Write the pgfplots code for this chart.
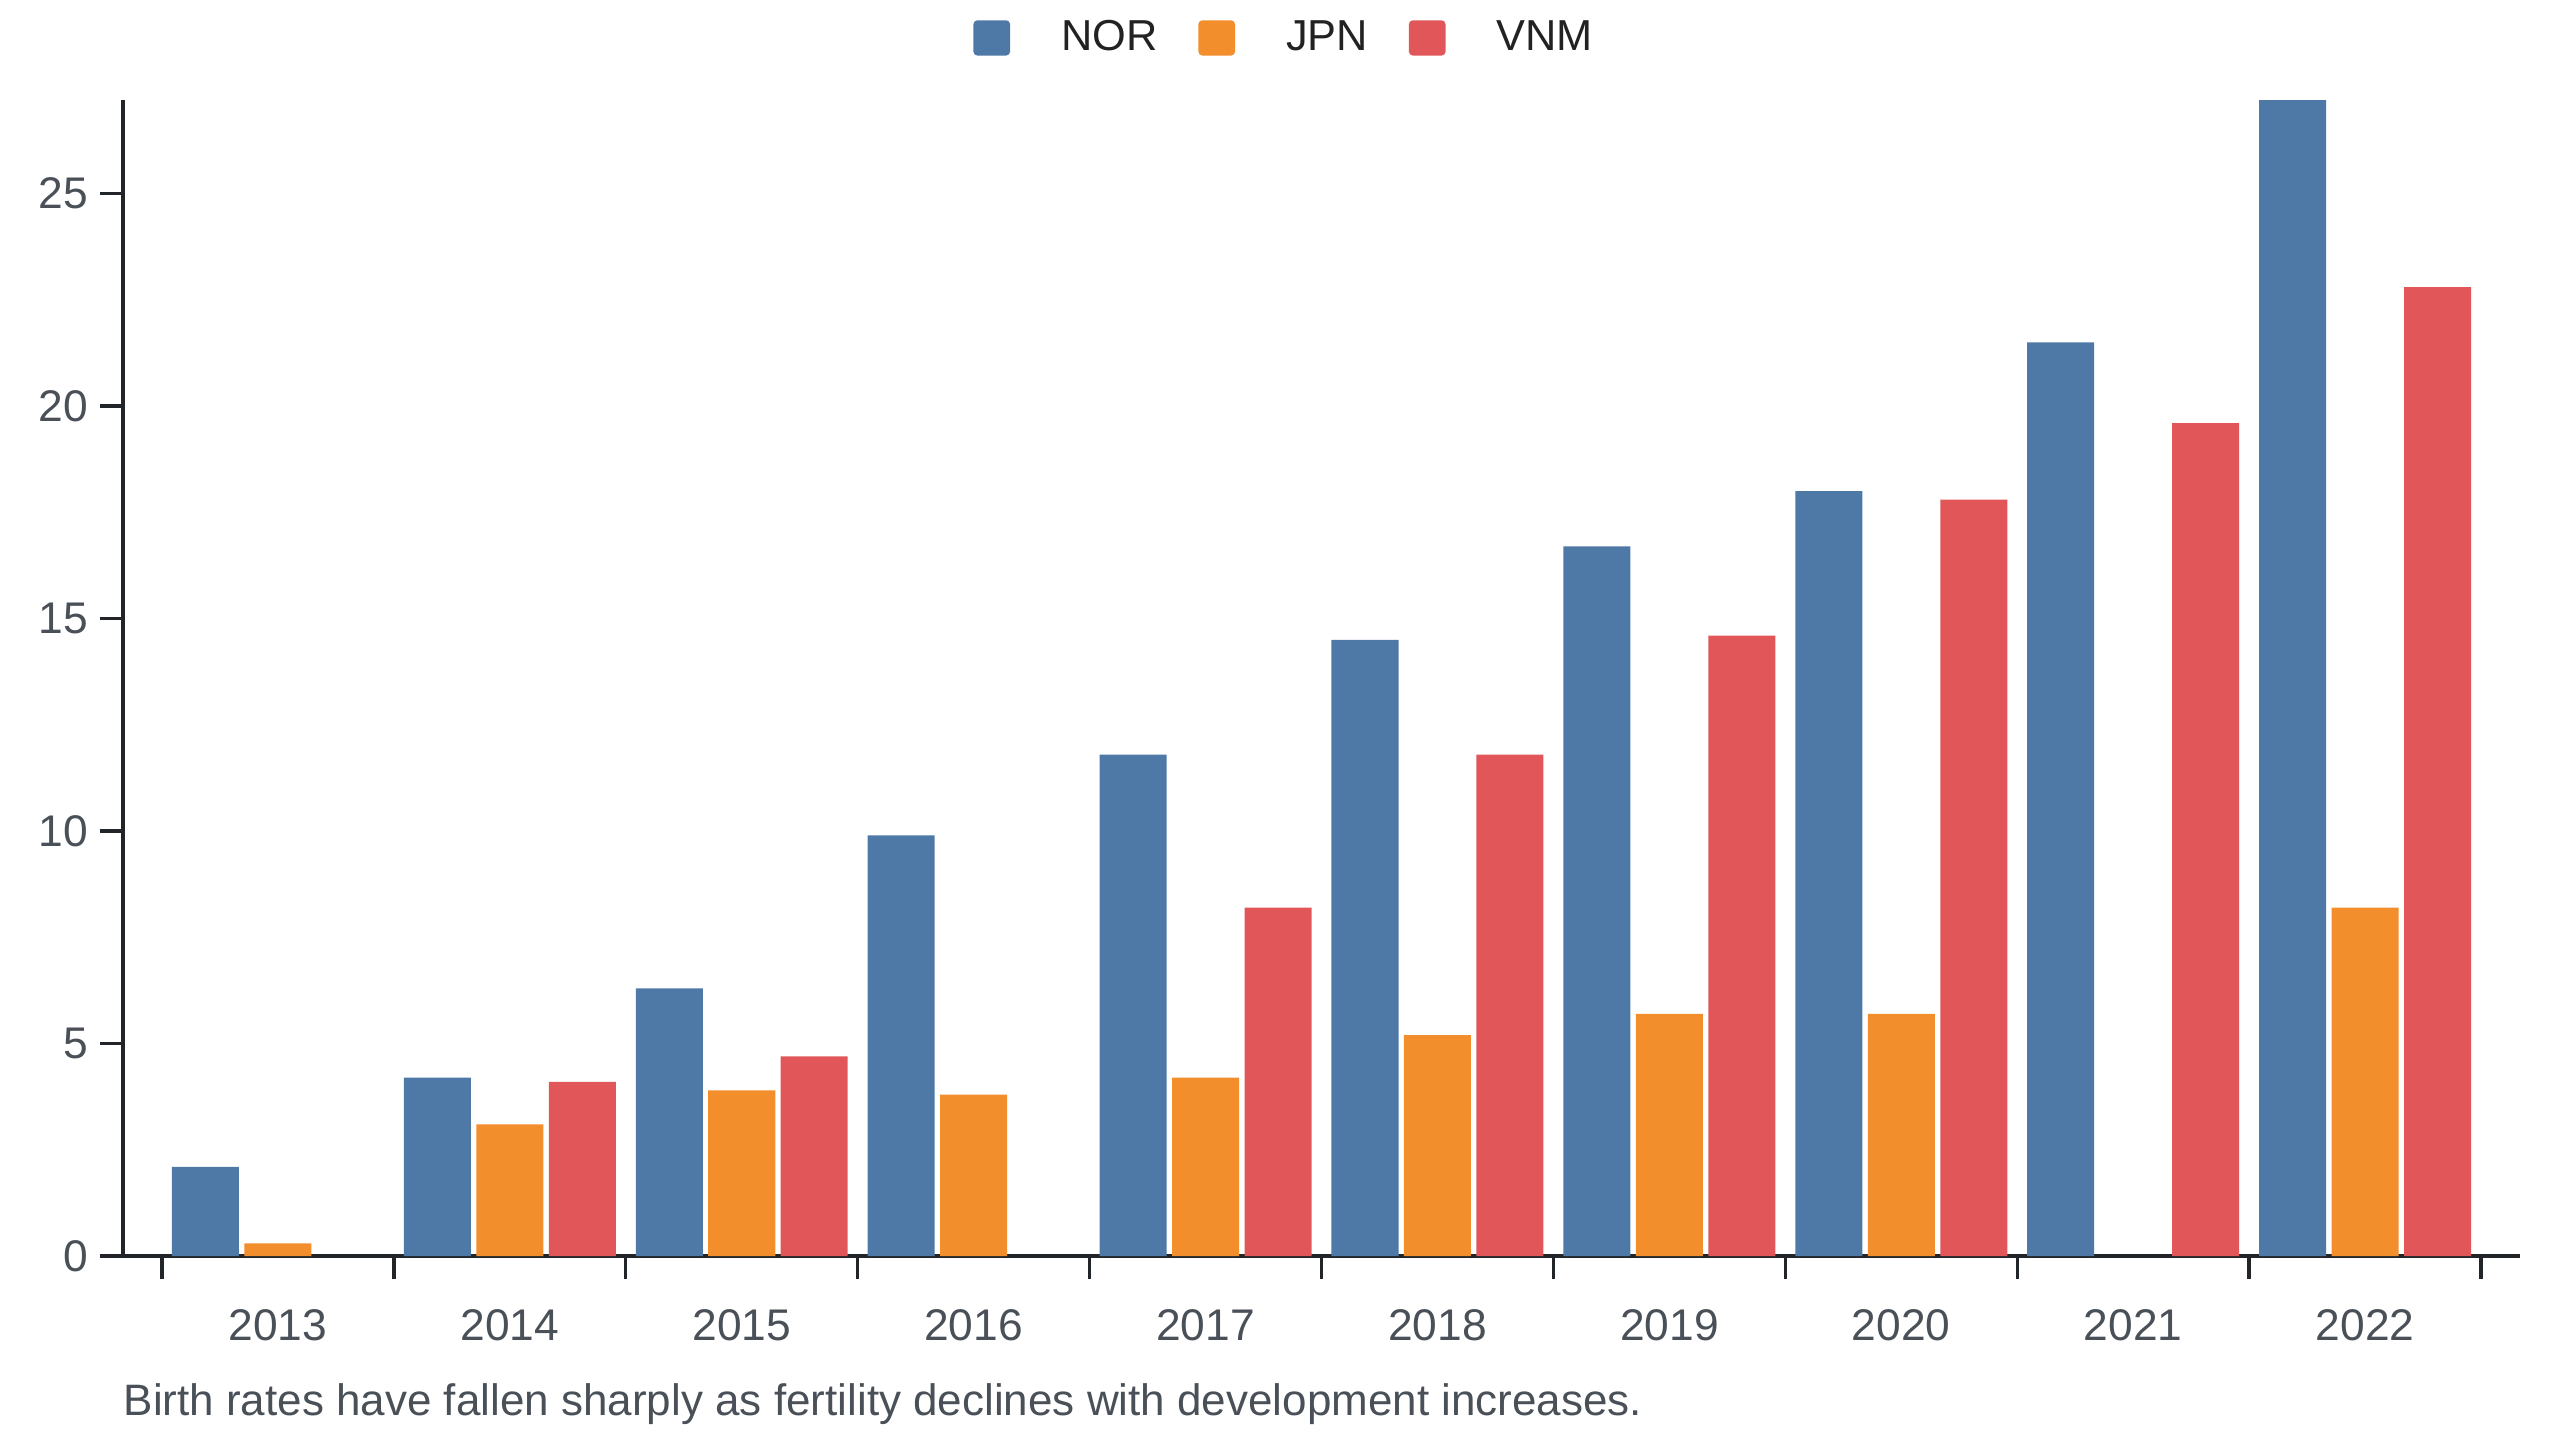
\documentclass[border=0pt]{standalone}
\usepackage{fontspec}
\setmainfont{Liberation Sans}
\usepackage{pgfplots}
\pgfplotsset{compat=1.18}
\definecolor{cNOR}{HTML}{4E79A7}
\definecolor{cJPN}{HTML}{F28E2B}
\definecolor{cVNM}{HTML}{E15759}
\definecolor{axc}{HTML}{212529}
\definecolor{txc}{HTML}{495057}
\definecolor{lgc}{HTML}{222222}
\begin{document}
\begin{tikzpicture}
\path[use as bounding box] (-36.9pt,-55.2pt) rectangle (731.1pt,376.8pt);
\begin{axis}[
  at={(0pt,0pt)}, anchor=south west,
  scale only axis, width=719.1pt, height=346.8pt,
  xmin=-0.668, xmax=9.668, ymin=0, ymax=27.2,
  axis lines*=left,
  axis line style={line width=1pt, draw=axc},
  tick align=outside,
  major tick length=7pt,
  tick style={line width=1pt, draw=axc},
  xtick={-0.5,0.5,1.5,2.5,3.5,4.5,5.5,6.5,7.5,8.5,9.5},
  x tick label as interval,
  xticklabels={2013,2014,2015,2016,2017,2018,2019,2020,2021,2022},
  ytick={0,5,10,15,20,25},
  /pgf/number format/assume math mode=true,
  ticklabel style={font=\fontsize{13.3}{15}\selectfont, text=txc},
  xticklabel style={yshift=-5.6pt},
  ybar,
  bar width=0.289,
  legend columns=3,
  legend image code/.code={\fill[#1, rounded corners=1.2pt] (0pt,-5.3pt) rectangle (11pt,5.3pt);},
  legend style={at={(0.484,1.0537)}, anchor=center, draw=none, fill=none,
    nodes={inner sep=0pt, font=\fontsize{13}{15}\selectfont, text=lgc},
    /tikz/every odd column/.append style={column sep=15.3pt},
    /tikz/every even column/.append style={column sep=12.3pt}},
]
\addplot[fill=cNOR, draw=none, bar shift=-0.3125] coordinates {
  (0,2.1) (1,4.2) (2,6.3) (3,9.9) (4,11.8) (5,14.5) (6,16.7) (7,18.0) (8,21.5) (9,27.2)};
\addplot[fill=cJPN, draw=none, bar shift=0] coordinates {
  (0,0.3) (1,3.1) (2,3.9) (3,3.8) (4,4.2) (5,5.2) (6,5.7) (7,5.7) (9,8.2)};
\addplot[fill=cVNM, draw=none, bar shift=0.3125] coordinates {
  (1,4.1) (2,4.7) (4,8.2) (5,11.8) (6,14.6) (7,17.8) (8,19.6) (9,22.8)};
\legend{NOR,JPN,VNM}
\end{axis}
\node[anchor=west, inner sep=0pt, font=\fontsize{13.2}{15}\selectfont, text=txc] at (0pt,-44.4pt)
  {Birth rates have fallen sharply as fertility declines with development increases.};
\end{tikzpicture}
\end{document}
